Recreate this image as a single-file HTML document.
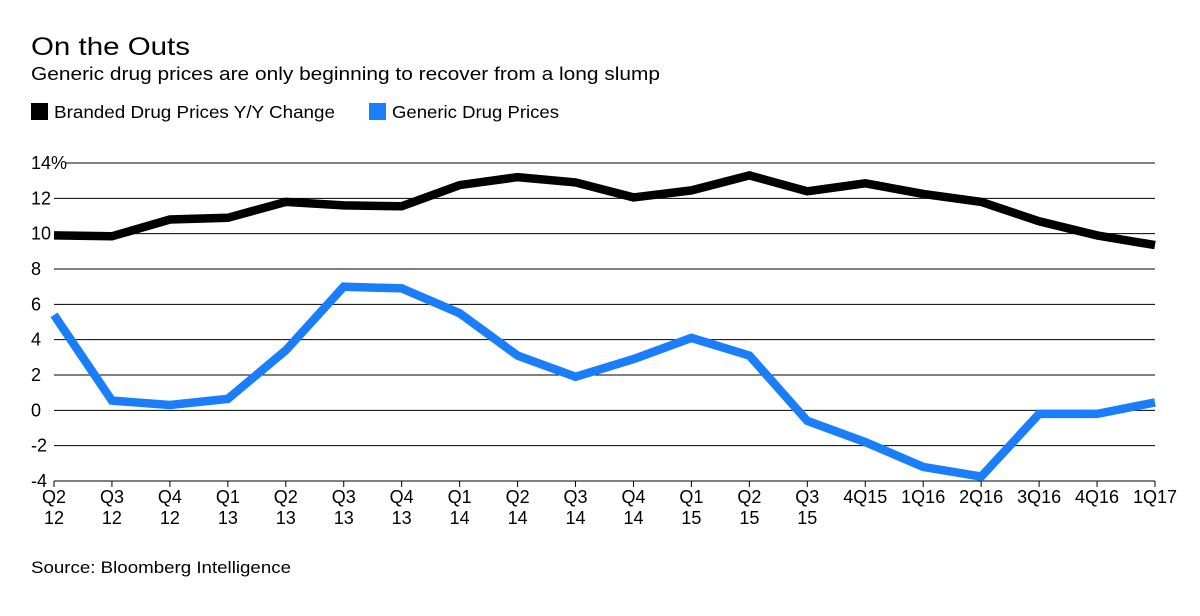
<!DOCTYPE html>
<html><head><meta charset="utf-8"><style>
body{margin:0;background:#fff;width:1200px;height:611px;overflow:hidden;font-family:"Liberation Sans",sans-serif;}
svg text{font-family:"Liberation Sans",sans-serif;fill:#000;}
</style></head><body>
<svg id="chart" width="1200" height="611" xmlns="http://www.w3.org/2000/svg">
<text x="31" y="55" font-size="25" textLength="159" lengthAdjust="spacingAndGlyphs">On the Outs</text>
<text x="31" y="80" font-size="18.5" textLength="629" lengthAdjust="spacingAndGlyphs">Generic drug prices are only beginning to recover from a long slump</text>
<g>
<rect x="31" y="103" width="17" height="17" fill="#000"/>
<text x="54" y="118" font-size="17.5" textLength="281" lengthAdjust="spacingAndGlyphs">Branded Drug Prices Y/Y Change</text>
<rect x="369" y="103" width="17" height="17" fill="#1a7efb"/>
<text x="392" y="118" font-size="17.5" textLength="167" lengthAdjust="spacingAndGlyphs">Generic Drug Prices</text>
</g>
<g id="grid"></g><g id="xaxis"></g><g id="series"></g>
<text x="31" y="573" font-size="16.5" textLength="260" lengthAdjust="spacingAndGlyphs">Source: Bloomberg Intelligence</text>
</svg>
<script>
const categories=["Q2|12","Q3|12","Q4|12","Q1|13","Q2|13","Q3|13","Q4|13","Q1|14","Q2|14","Q3|14","Q4|14","Q1|15","Q2|15","Q3|15","4Q15","1Q16","2Q16","3Q16","4Q16","1Q17"];
const brandedValues=[9.9,9.85,10.8,10.9,11.8,11.6,11.55,12.75,13.2,12.9,12.05,12.45,13.3,12.4,12.85,12.25,11.8,10.7,9.9,9.35];
const genericValues=[5.4,0.55,0.3,0.65,3.4,7.0,6.9,5.5,3.1,1.9,2.9,4.1,3.1,-0.6,-1.8,-3.2,-3.75,-0.2,-0.2,0.45];
const yTicks=[14,12,10,8,6,4,2,0,-2,-4];
const yTickLabels=["14%","12","10","8","6","4","2","0","-2","-4"];
const NS="http://www.w3.org/2000/svg";
const x0=54,x1=1155,yTop=163,yBot=481,yMax=14,yMin=-4;
const xs=i=>x0+(x1-x0)*i/(categories.length-1);
const ys=v=>yBot-(v-yMin)/(yMax-yMin)*(yBot-yTop);
function mk(t,a,p){const e=document.createElementNS(NS,t);for(const k in a)e.setAttribute(k,a[k]);p.appendChild(e);return e;}
const grid=document.getElementById('grid');
yTicks.forEach((v,i)=>{
 const lab=yTickLabels[i];
 const g=mk('line',{x1:lab.length>2?x0+12:x0,x2:x1,y1:ys(v),y2:ys(v),stroke:'#000','stroke-width':1},grid);
 
 
 const t=mk('text',{x:31,y:ys(v)+6,'font-size':18},grid);
 
 
 t.textContent=lab;
});
const xa=document.getElementById('xaxis');
categories.forEach((c,i)=>{
 const tk=mk('line',{x1:xs(i),x2:xs(i),y1:yBot,y2:yBot+6,stroke:'#000','stroke-width':1},xa);
 
 
 c.split('|').forEach((p,j)=>{
  const t=mk('text',{x:xs(i),y:503+j*21,'font-size':18,'text-anchor':'middle'},xa);
  
  
  t.textContent=p;
 });
});
const se=document.getElementById('series');
function line(vals,col,name){
 const d=vals.map((v,i)=>(i?'L':'M')+xs(i).toFixed(1)+','+ys(v).toFixed(1)).join('');
 const p=mk('path',{d:d,fill:'none',stroke:col,'stroke-width':8.5,'stroke-linejoin':'miter'},se);
 
 
}
line(brandedValues,'#000','branded-line');
line(genericValues,'#1a7efb','generic-line');
</script>
</body></html>
